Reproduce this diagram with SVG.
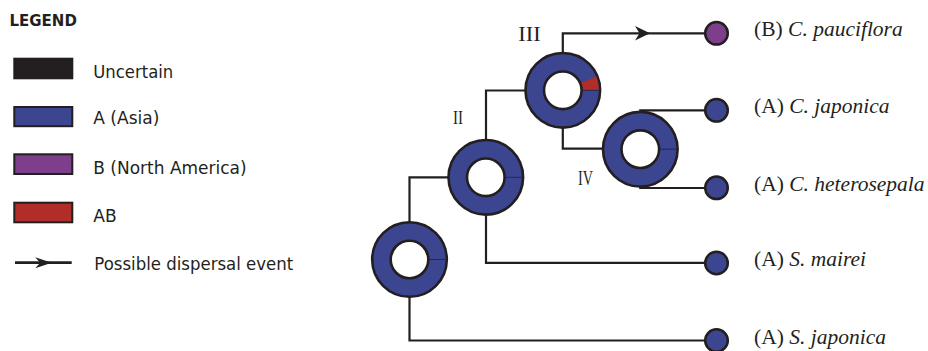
<svg xmlns="http://www.w3.org/2000/svg" width="928" height="351" viewBox="0 0 928 351">
  <style>
    .legend-title { font-family: "DejaVu Sans", "Liberation Sans", sans-serif; font-weight: bold; font-size: 15px; fill: #231f20; }
    .legend-text { font-family: "DejaVu Sans", "Liberation Sans", sans-serif; font-size: 17.5px; fill: #231f20; }
    .swatch { stroke: #231f20; stroke-width: 2; }
    .branch { fill: none; stroke: #231f20; stroke-width: 2.2; stroke-linecap: square; stroke-linejoin: miter; }
    .ring-outer { fill: #3c4590; stroke: #231f20; stroke-width: 2.6; }
    .ring-inner { fill: #ffffff; stroke: #231f20; stroke-width: 2.6; }
    .ring-split { stroke: #23265a; stroke-width: 1; }
    .tip { stroke: #231f20; stroke-width: 2.5; }
    .area-a { fill: #3c4590; }
    .area-b { fill: #7d3f8c; }
    .area-ab { fill: #b02e27; }
    .uncertain { fill: #231f20; }
    .numeral { font-family: "Liberation Serif", "Times New Roman", serif; fill: #231f20; }
    .taxon { font-family: "Liberation Serif", "Times New Roman", serif; font-size: 21.5px; fill: #231f20; }
    .taxon .sp { font-style: italic; }
  </style>
  <defs>
    <!-- barbed arrowhead, tip at the origin pointing right -->
    <path id="arrowhead" d="M0,0 L-15,-7.3 L-10.5,0 L-15,7.3 Z" fill="#231f20"/>
  </defs>

  <!-- legend -->
  <g id="legend">
    <text class="legend-title" x="9.5" y="25.7">LEGEND</text>
    <rect class="swatch uncertain" x="14.3" y="58.7" width="58" height="19.6"/>
    <text class="legend-text" x="93.3" y="78.3" textLength="80" lengthAdjust="spacingAndGlyphs">Uncertain</text>
    <rect class="swatch area-a" x="14.3" y="107" width="58" height="19.2"/>
    <text class="legend-text" x="93.3" y="123.5" textLength="66" lengthAdjust="spacingAndGlyphs">A (Asia)</text>
    <rect class="swatch area-b" x="14.3" y="154.3" width="58" height="19.7"/>
    <text class="legend-text" x="93.3" y="173.5" textLength="153.3" lengthAdjust="spacingAndGlyphs">B (North America)</text>
    <rect class="swatch area-ab" x="14.3" y="202.7" width="58" height="19.6"/>
    <text class="legend-text" x="93.3" y="221.8" textLength="23.4" lengthAdjust="spacingAndGlyphs">AB</text>
    <line x1="15" y1="262.7" x2="71.7" y2="262.7" stroke="#231f20" stroke-width="2.7"/>
    <use href="#arrowhead" transform="translate(51.7,262.7) scale(1.1,0.75)"/>
    <text class="legend-text" x="94.3" y="270.2" textLength="199" lengthAdjust="spacingAndGlyphs">Possible dispersal event</text>
  </g>

  <!-- branches -->
  <g id="connectors">
    <path class="branch" d="M409.5,221 V177.3 H448"/>
    <path class="branch" d="M409.5,298 V340.5 H705"/>
    <path class="branch" d="M486,138 V90.5 H524"/>
    <path class="branch" d="M486,216.5 V262.8 H705"/>
    <path class="branch" d="M562.8,52 V33.3 H705"/>
    <use href="#arrowhead" transform="translate(650,33.3)"/>
    <path class="branch" d="M562.8,128.5 V148.6 H601.5"/>
    <path class="branch" d="M640.3,110.3 H705"/>
    <path class="branch" d="M640.3,188 H705"/>
  </g>

  <!-- ancestral area rings -->
  <g id="node-root">
    <circle class="ring-outer" cx="409.5" cy="259.5" r="37.3"/>
    <line class="ring-split" x1="429" y1="259.5" x2="446" y2="259.5"/>
    <circle class="ring-inner" cx="409.5" cy="259.5" r="18.8"/>
  </g>
  <g id="node-II">
    <circle class="ring-outer" cx="485.8" cy="177.3" r="37.3"/>
    <line class="ring-split" x1="505" y1="177.3" x2="522.5" y2="177.3"/>
    <circle class="ring-inner" cx="485.8" cy="177.3" r="18.8"/>
    <text class="numeral" x="453" y="124" font-size="18" textLength="10" lengthAdjust="spacingAndGlyphs">II</text>
  </g>
  <g id="node-III">
    <circle class="ring-outer" cx="562.8" cy="90.3" r="37.3"/>
    <path class="area-ab" d="M582.3,90.3 L599,90.3 A36.2,36.2 0 0 0 596.36,76.74 L581.35,82.81 A19.5,19.5 0 0 1 582.3,90.3 Z"/>
    <line class="ring-split" x1="582" y1="90.3" x2="599.5" y2="90.3"/>
    <circle class="ring-inner" cx="562.8" cy="90.3" r="18.8"/>
    <text class="numeral" x="518.3" y="40.7" font-size="21" textLength="22.4" lengthAdjust="spacingAndGlyphs">III</text>
  </g>
  <g id="node-IV">
    <circle class="ring-outer" cx="640.3" cy="149.2" r="37.3"/>
    <line class="ring-split" x1="659.5" y1="149.2" x2="677" y2="149.2"/>
    <circle class="ring-inner" cx="640.3" cy="149.2" r="18.8"/>
    <text class="numeral" x="578" y="185" font-size="20" textLength="15" lengthAdjust="spacingAndGlyphs">IV</text>
  </g>

  <!-- terminal taxa -->
  <g id="tip-c-pauciflora">
    <circle class="tip area-b" cx="716.5" cy="33.3" r="11.3"/>
    <text class="taxon" x="754" y="36.3">(B) <tspan class="sp">C. pauciflora</tspan></text>
  </g>
  <g id="tip-c-japonica">
    <circle class="tip area-a" cx="716.5" cy="110.3" r="11.3"/>
    <text class="taxon" x="754" y="113.3">(A) <tspan class="sp">C. japonica</tspan></text>
  </g>
  <g id="tip-c-heterosepala">
    <circle class="tip area-a" cx="716.5" cy="187.8" r="11.3"/>
    <text class="taxon" x="754" y="190.5">(A) <tspan class="sp">C. heterosepala</tspan></text>
  </g>
  <g id="tip-s-mairei">
    <circle class="tip area-a" cx="716.5" cy="263" r="11.3"/>
    <text class="taxon" x="754" y="266.3">(A) <tspan class="sp">S. mairei</tspan></text>
  </g>
  <g id="tip-s-japonica">
    <circle class="tip area-a" cx="716.5" cy="340.5" r="11.3"/>
    <text class="taxon" x="754" y="344">(A) <tspan class="sp">S. japonica</tspan></text>
  </g>
</svg>
